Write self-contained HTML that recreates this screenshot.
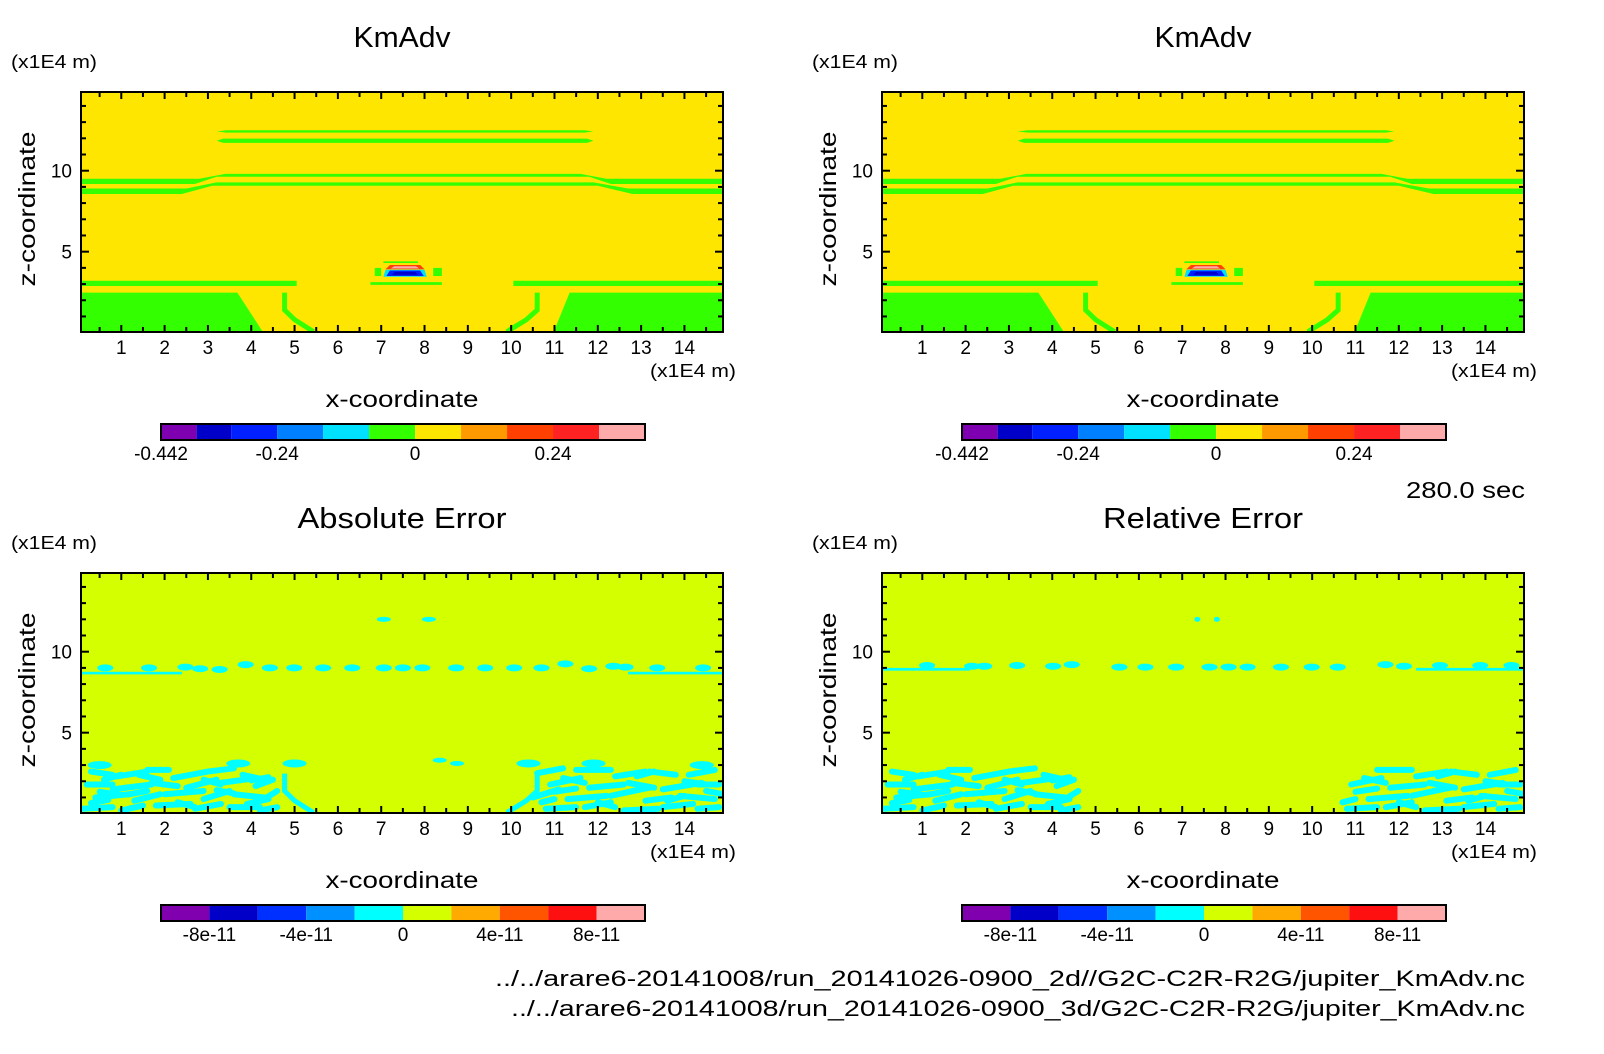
<!DOCTYPE html>
<html><head><meta charset="utf-8"><style>
html,body{margin:0;padding:0;background:#fff;}
svg{display:block;font-family:"Liberation Sans",sans-serif;}
</style></head><body>
<svg id="fig" width="1604" height="1054" viewBox="0 0 1604 1054" xmlns="http://www.w3.org/2000/svg">
<text x="1525" y="498" font-size="23" text-anchor="end" textLength="119" lengthAdjust="spacingAndGlyphs">280.0 sec</text>
<text x="1525" y="986" font-size="22" text-anchor="end" textLength="1030" lengthAdjust="spacingAndGlyphs">../../arare6-20141008/run_20141026-0900_2d//G2C-C2R-R2G/jupiter_KmAdv.nc</text>
<text x="1525" y="1016" font-size="22" text-anchor="end" textLength="1014" lengthAdjust="spacingAndGlyphs">../../arare6-20141008/run_20141026-0900_3d/G2C-C2R-R2G/jupiter_KmAdv.nc</text>
</svg>
<script>
// ---- axis data ----
const xRange = [0.07, 14.89];
const yRange = [0.04, 14.86];
const xTickLabels = [1,2,3,4,5,6,7,8,9,10,11,12,13,14];
const yTickLabels = [5,10];
// ---- colorbars ----
const kmColors = ["#7f00b0","#0000c8","#0020ff","#0080ff","#00e0ff","#33ff00","#ffe600","#ff9900","#ff4000","#ff2222","#ffaaaa"];
const kmLevels = [-0.442,-0.38,-0.32,-0.24,-0.16,-0.08,0,0.08,0.16,0.24,0.32,0.4];
const kmLabels = ["-0.442","-0.24","0","0.24"];
const errColors = ["#8000b0","#0000c8","#0030ff","#0090ff","#00ffff","#d4ff00","#ffaa00","#ff5500","#ff1010","#ffaaaa"];
const errLevels = [-1e-10,-8e-11,-6e-11,-4e-11,-2e-11,0,2e-11,4e-11,6e-11,8e-11,1e-10];
const errLabels = ["-8e-11","-4e-11","0","4e-11","8e-11"];
// ---- KmAdv field regions (polygons in data coords, color index) ----
const kmPolys = [
 [5,[[3.43,12.35],[11.7,12.35],[11.9,12.42],[11.7,12.5],[3.43,12.5],[3.2,12.42]]],
 [5,[[3.35,11.72],[11.75,11.72],[11.9,11.85],[11.75,11.98],[3.35,11.98],[3.2,11.85]]],
 [5,[[0.07,9.5],[2.8,9.5],[3.4,9.8],[11.6,9.8],[12.2,9.5],[14.89,9.5],[14.89,9.18],[12.3,9.18],[11.8,9.63],[3.2,9.63],[2.7,9.18],[0.07,9.18]]],
 [5,[[0.07,8.9],[2.5,8.9],[3.2,9.28],[11.9,9.28],[12.7,8.9],[14.89,8.9],[14.89,8.56],[12.8,8.56],[12.0,9.07],[3.1,9.07],[2.4,8.56],[0.07,8.56]]],
 [5,[[0.07,2.88],[5.05,2.88],[5.05,3.2],[0.07,3.2]]],
 [5,[[10.05,2.88],[14.89,2.88],[14.89,3.2],[10.05,3.2]]],
 [5,[[6.75,2.95],[8.4,2.95],[8.4,3.12],[6.75,3.12]]],
 [5,[[0.07,0.04],[0.07,2.47],[3.68,2.47],[4.27,0.04]]],
 [5,[[11.35,2.47],[14.89,2.47],[14.89,0.04],[10.98,0.04]]],
 [5,[[7.05,4.3],[7.85,4.3],[7.85,4.4],[7.05,4.4]]],
 [5,[[6.85,3.5],[7.0,3.5],[7.0,4.0],[6.85,4.0]]],
 [5,[[8.2,3.5],[8.4,3.5],[8.4,4.0],[8.2,4.0]]],
 [8,[[7.1,3.92],[8.0,3.92],[7.9,4.18],[7.2,4.18]]],
 [10,[[7.22,3.96],[7.88,3.96],[7.8,4.1],[7.3,4.1]]],
 [4,[[7.05,3.45],[8.05,3.45],[8.0,3.88],[7.1,3.88]]],
 [2,[[7.12,3.5],[7.98,3.5],[7.9,3.84],[7.2,3.84]]],
 [1,[[7.25,3.58],[7.85,3.58],[7.78,3.75],[7.32,3.75]]]
];
const kmArcs = [
 [[4.77,2.47],[4.77,1.4],[5.0,0.8],[5.44,0.06]],
 [[10.6,2.47],[10.6,1.4],[10.35,0.8],[9.9,0.06]]
];
// ---- error fields ----
const absBandL = [0.07, 2.4, 8.6, 8.76];
const absBandR = [12.7, 14.89, 8.6, 8.76];
const absBlobX = [0.63,1.64,2.48,2.82,3.27,3.87,4.43,4.99,5.66,6.33,7.06,7.5,7.95,8.73,9.4,10.07,10.7,11.25,11.8,12.36,12.64,13.37,14.43];
const absBlobY = [9.0,9.0,9.05,8.95,8.9,9.2,9.0,9.0,9.0,9.0,9.0,9.0,9.0,9.0,9.0,9.0,9.0,9.25,8.95,9.1,9.05,9.0,9.0];
const absTopX = [7.06,8.1,8.35,8.75];
const absTopY = [12.0,12.0,3.3,3.1];
const absEdgeX = [0.5,3.7,5.0,10.4,11.9,14.4];
const absEdgeY = [3.0,3.1,3.1,3.1,3.1,3.0];
const relBandL = [0.07, 2.1, 8.83, 9.0];
const relBandR = [12.4, 14.89, 8.83, 9.0];
const relBlobX = [1.11,2.15,2.43,3.19,4.02,4.45,5.55,6.15,6.86,7.63,8.07,8.51,9.28,9.99,10.59,11.69,12.12,12.95,13.88,14.6];
const relBlobY = [9.15,9.1,9.1,9.15,9.1,9.2,9.05,9.05,9.05,9.05,9.05,9.05,9.05,9.05,9.05,9.2,9.1,9.15,9.15,9.15];
const relTopX = [7.35,7.8];
const relTopY = [12.0,12.0];
const streaks = [
 [0.3,2.6,0.5,-0.2],[0.9,2.3,0.7,0.3],[1.6,2.7,0.5,0],[2.2,2.2,0.8,0.4],[3.0,2.6,0.6,0.2],[3.8,2.4,0.5,-0.3],
 [0.2,1.8,0.6,0],[0.8,1.5,0.9,0.3],[1.7,1.9,0.6,-0.2],[2.5,1.6,0.7,0.5],[3.3,1.9,0.8,0.3],[4.1,1.7,0.4,0.4],
 [0.4,1.0,0.8,0.2],[1.3,0.8,0.6,0.4],[2.0,1.2,0.9,0.2],[2.9,0.9,0.6,0.5],[3.6,1.2,0.7,-0.2],[4.3,0.9,0.3,0.5],
 [0.1,0.3,0.7,0.1],[1.0,0.2,0.5,0.3],[1.8,0.5,0.8,0.1],[2.7,0.3,0.6,0.3],[3.5,0.4,0.7,0],[4.2,0.2,0.4,0.2],
 [0.6,2.1,0.4,0.3],[1.4,2.4,0.5,-0.3],[2.9,2.1,0.4,-0.3],[0.5,1.35,0.5,-0.2],[2.3,0.7,0.4,-0.3],[3.9,0.6,0.5,0.3],
 [1.2,1.2,0.4,0.2],[3.2,1.45,0.4,-0.2],[0.3,0.65,0.4,0.2],[4.0,2.05,0.4,0.2],
 [10.6,2.5,0.6,0.3],[11.5,2.7,0.8,0],[12.4,2.3,0.7,0.3],[13.2,2.6,0.6,-0.2],[14.1,2.4,0.6,0.3],
 [10.9,1.8,0.7,0.4],[11.8,1.6,0.8,0.2],[12.7,1.9,0.6,-0.3],[13.5,1.5,0.9,0.4],[14.3,1.8,0.5,0],
 [10.5,1.0,0.6,0.5],[11.3,0.9,0.9,0.2],[12.3,1.1,0.7,0.4],[13.1,0.8,0.6,0.2],[13.9,1.1,0.8,-0.2],
 [10.8,0.3,0.7,0.1],[11.7,0.4,0.6,0.3],[12.6,0.2,0.8,0.1],[13.5,0.4,0.7,0.2],[14.3,0.3,0.5,0.1],
 [11.2,2.2,0.5,-0.3],[12.9,2.3,0.4,0.3],[14.0,2.0,0.5,-0.2],[11.0,1.35,0.5,0.2],[12.0,0.7,0.4,-0.3],
 [13.6,0.8,0.4,0.3],[14.5,1.4,0.4,-0.2],[12.8,1.4,0.4,0.2],[10.7,0.7,0.3,0.2]
];

const NS = "http://www.w3.org/2000/svg";
const svg = document.getElementById('fig');
function mk(tag, attrs, parent){
  const e = document.createElementNS(NS, tag);
  for (const k in attrs) e.setAttribute(k, attrs[k]);
  (parent||svg).appendChild(e);
  return e;
}
const W = 642, H = 240;

function panel(L, T, kind, title, titleLen, name){
  const g = mk('g', {});
  
  
  const sx = x => L + (x - xRange[0]) / (xRange[1] - xRange[0]) * W;
  const sy = y => T + (yRange[1] - y) / (yRange[1] - yRange[0]) * H;
  const clipId = 'clip' + name;
  const cp = mk('clipPath', {id: clipId}, g);
  mk('rect', {x: L, y: T, width: W, height: H}, cp);
  const field = mk('g', {'clip-path': 'url(#' + clipId + ')'}, g);
  
  
  const pts = arr => arr.map(p => sx(p[0]).toFixed(1) + ',' + sy(p[1]).toFixed(1)).join(' ');
  if (kind === 'km') {
    mk('rect', {x: L, y: T, width: W, height: H, fill: kmColors[6]}, field);
    kmPolys.forEach(p => {
      const e = mk('polygon', {points: pts(p[1]), fill: kmColors[p[0]]}, field);
      
      
    });
    kmArcs.forEach(a => {
      const e = mk('polyline', {points: pts(a), fill: 'none', stroke: kmColors[5], 'stroke-width': 5}, field);
      
      
    });
  } else {
    const cy = errColors[4];
    mk('rect', {x: L, y: T, width: W, height: H, fill: errColors[5]}, field);
    const rel = kind === 'rel';
    const bands = rel ? [relBandL, relBandR] : [absBandL, absBandR];
    bands.forEach(b => {
      const e = mk('rect', {x: sx(b[0]), y: sy(b[3]), width: sx(b[1]) - sx(b[0]), height: sy(b[2]) - sy(b[3]), fill: cy}, field);
      
      
    });
    const bx = rel ? relBlobX : absBlobX, by = rel ? relBlobY : absBlobY;
    bx.forEach((x, i) => {
      const e = mk('ellipse', {cx: sx(x), cy: sy(by[i]), rx: 8, ry: 3.5, fill: cy}, field);
      
      
    });
    const tx = rel ? relTopX : absTopX, ty = rel ? relTopY : absTopY;
    tx.forEach((x, i) => {
      const e = mk('ellipse', {cx: sx(x), cy: sy(ty[i]), rx: rel ? 3 : 7, ry: 2.5, fill: cy}, field);
      
      
    });
    if (!rel) {
      absEdgeX.forEach((x, i) => {
        const e = mk('ellipse', {cx: sx(x), cy: sy(absEdgeY[i]), rx: 12, ry: 4, fill: cy}, field);
        
        
      });
      kmArcs.forEach(a => {
        const e = mk('polyline', {points: pts(a), fill: 'none', stroke: cy, 'stroke-width': 5}, field);
        
        
      });
    }
    const leftMax = rel ? 4.6 : 4.9, rightMin = rel ? 10.7 : 10.3;
    streaks.forEach(s => {
      if (s[0] > leftMax && s[0] < rightMin) return;
      const e = mk('line', {x1: sx(s[0]), y1: sy(s[1]), x2: sx(Math.min(s[0] + s[2], s[0] < 7 ? leftMax : 15)), y2: sy(s[1] + s[3]), stroke: cy, 'stroke-width': 6, 'stroke-linecap': 'round'}, field);
      
      
    });
  }
  const fr = mk('rect', {x: L, y: T, width: W, height: H, fill: 'none', stroke: '#000', 'stroke-width': 2}, g);
  
  
  for (let v = 0.5; v < 15; v += 0.5) {
    const x = sx(v);
    const len = Number.isInteger(v) ? 7 : 5;
    mk('line', {x1: x, y1: T + H, x2: x, y2: T + H - len, stroke: '#000', 'stroke-width': 2}, g);
    mk('line', {x1: x, y1: T, x2: x, y2: T + len, stroke: '#000', 'stroke-width': 2}, g);
  }
  for (let v = 1; v <= 14; v++) {
    const y = sy(v);
    const len = (v % 5 === 0) ? 8 : 5;
    mk('line', {x1: L, y1: y, x2: L + len, y2: y, stroke: '#000', 'stroke-width': 2}, g);
    mk('line', {x1: L + W, y1: y, x2: L + W - len, y2: y, stroke: '#000', 'stroke-width': 2}, g);
  }
  xTickLabels.forEach(v => {
    const t = mk('text', {x: sx(v), y: T + 262, 'font-size': 19, 'text-anchor': 'middle'}, g);
    t.textContent = v;
    
    
  });
  yTickLabels.forEach(v => {
    const t = mk('text', {x: L - 9, y: sy(v) + 7, 'font-size': 19, 'text-anchor': 'end'}, g);
    t.textContent = v;
    
    
  });
  const tt = mk('text', {x: L + W / 2, y: T - 45, 'font-size': 29, 'text-anchor': 'middle', textLength: titleLen, lengthAdjust: 'spacingAndGlyphs'}, g);
  tt.textContent = title;
  
  
  const yu = mk('text', {x: L - 70, y: T - 24, 'font-size': 18, textLength: 86, lengthAdjust: 'spacingAndGlyphs'}, g);
  yu.textContent = '(x1E4 m)';
  
  
  const xu = mk('text', {x: L + W + 13 - 86, y: T + 285, 'font-size': 18, textLength: 86, lengthAdjust: 'spacingAndGlyphs'}, g);
  xu.textContent = '(x1E4 m)';
  
  
  const xl = mk('text', {x: L + W / 2, y: T + 315, 'font-size': 23, 'text-anchor': 'middle', textLength: 153, lengthAdjust: 'spacingAndGlyphs'}, g);
  xl.textContent = 'x-coordinate';
  
  
  const yl = mk('text', {x: 0, y: 0, 'font-size': 23, 'text-anchor': 'middle', textLength: 155, lengthAdjust: 'spacingAndGlyphs', transform: 'translate(' + (L - 46) + ',' + (T + 117) + ') rotate(-90)'}, g);
  yl.textContent = 'z-coordinate';
  
  
  const cb = mk('g', {}, g);
  
  
  const bx0 = L + 80, bw = 484, by0 = T + 332, bh = 16;
  const cols = kind === 'km' ? kmColors : errColors;
  const lev = kind === 'km' ? kmLevels : errLevels;
  const lmin = lev[0], lmax = lev[lev.length - 1];
  const cbx = v => bx0 + (v - lmin) / (lmax - lmin) * bw;
  cols.forEach((c, i) => {
    const r = mk('rect', {x: cbx(lev[i]), y: by0, width: cbx(lev[i + 1]) - cbx(lev[i]), height: bh, fill: c}, cb);
    
    
  });
  mk('rect', {x: bx0, y: by0, width: bw, height: bh, fill: 'none', stroke: '#000', 'stroke-width': 2}, cb);
  const labs = kind === 'km' ? kmLabels : errLabels;
  labs.forEach(s => {
    const t = mk('text', {x: cbx(parseFloat(s)), y: T + 368, 'font-size': 19, 'text-anchor': 'middle'}, cb);
    t.textContent = s;
    
    
  });
}
panel(81, 92, 'km', 'KmAdv', 97, 'kmadv-2d-panel');
panel(882, 92, 'km', 'KmAdv', 97, 'kmadv-3d-panel');
panel(81, 573, 'abs', 'Absolute Error', 209, 'absolute-error-panel');
panel(882, 573, 'rel', 'Relative Error', 200, 'relative-error-panel');
</script>
</body></html>
